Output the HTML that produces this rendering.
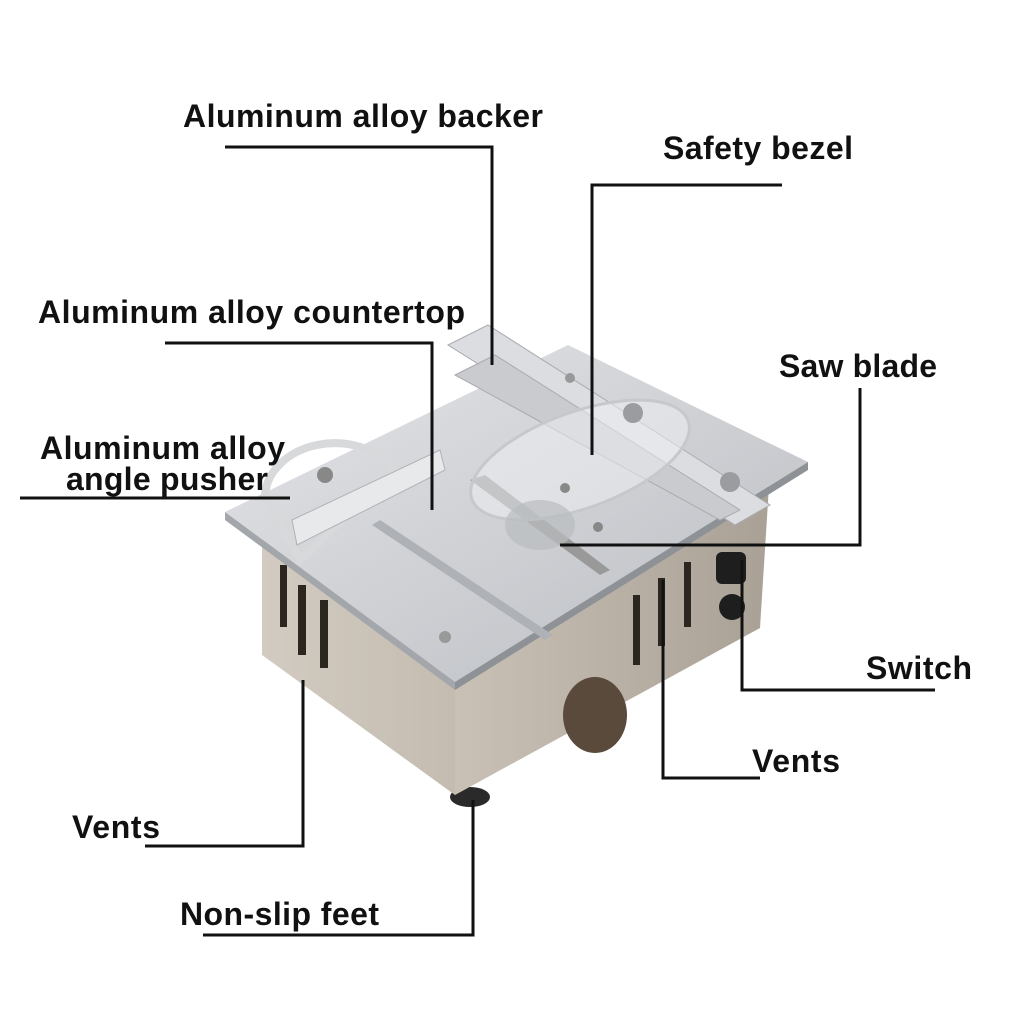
<!DOCTYPE html>
<html><head><meta charset="utf-8"><style>
html,body{margin:0;padding:0;background:#fff;}
svg{display:block}
text{font-family:"Liberation Sans",sans-serif;font-weight:bold;font-size:32px;fill:#111;}
</style></head><body>
<svg width="1024" height="1024" viewBox="0 0 1024 1024">
<defs>
<linearGradient id="top" x1="0" y1="0" x2="1" y2="1">
<stop offset="0" stop-color="#e4e5e8"/><stop offset="0.5" stop-color="#cfd1d5"/><stop offset="1" stop-color="#b9bcc1"/></linearGradient>
<linearGradient id="lf" x1="0" y1="0" x2="1" y2="0">
<stop offset="0" stop-color="#d2cbc1"/><stop offset="1" stop-color="#c4bcb0"/></linearGradient>
<linearGradient id="rf" x1="0" y1="0" x2="1" y2="0">
<stop offset="0" stop-color="#c9c1b5"/><stop offset="1" stop-color="#a9a196"/></linearGradient>
</defs>
<ellipse cx="298" cy="664" rx="16" ry="9" fill="#2a2a2a"/>
<ellipse cx="470" cy="797" rx="20" ry="10" fill="#2a2a2a"/>
<ellipse cx="735" cy="630" rx="14" ry="8" fill="#2a2a2a"/>
<!-- body -->
<polygon points="262,500 455,640 455,795 262,655" fill="url(#lf)"/>
<polygon points="455,640 770,470 760,628 455,795" fill="url(#rf)"/>
<ellipse cx="595" cy="715" rx="32" ry="38" fill="#5a4a3c"/>
<g fill="#2c2620">
<rect x="280" y="565" width="7" height="62"/><rect x="298" y="585" width="8" height="70"/><rect x="320" y="600" width="8" height="68"/>
<rect x="633" y="595" width="7" height="70"/><rect x="658" y="578" width="7" height="68"/><rect x="684" y="562" width="7" height="65"/>
</g>
<rect x="716" y="552" width="30" height="32" rx="6" fill="#1e1e1e"/>
<circle cx="732" cy="607" r="13" fill="#1e1e1e"/>
<!-- top -->
<polygon points="225,512 568,345 808,462 455,682" fill="url(#top)"/>
<polygon points="225,512 455,682 455,690 225,520" fill="#a3a7ac"/>
<polygon points="455,682 808,462 808,470 455,690" fill="#8e9297"/>
<polygon points="372,525 545,640 553,635 380,520" fill="#aeb1b6"/>
<polygon points="470,480 600,575 610,570 485,475" fill="#999"/>
<path d="M265,495 A70,55 0 0 1 395,470 L300,560 Z" fill="none" stroke="#d8d9db" stroke-width="8"/>
<polygon points="292,520 440,450 445,470 297,545" fill="#e8e9eb" stroke="#b0b2b6"/>
<polygon points="448,345 488,325 770,505 735,525" fill="#dcdde0" stroke="#a9abaf"/>
<polygon points="455,375 495,355 740,510 720,520" fill="#c9cbce" stroke="#a9abaf"/>
<ellipse cx="580" cy="460" rx="115" ry="48" transform="rotate(-20 580 460)" fill="rgba(240,242,245,0.5)" stroke="#c5c8cc" stroke-width="3"/>
<ellipse cx="540" cy="525" rx="35" ry="25" fill="#b9bcbf" opacity="0.7"/>
<circle cx="565" cy="488" r="5" fill="#888"/><circle cx="598" cy="527" r="5" fill="#888"/>
<circle cx="445" cy="637" r="6" fill="#999"/><circle cx="570" cy="378" r="5" fill="#999"/>
<circle cx="325" cy="475" r="8" fill="#888"/>
<circle cx="633" cy="413" r="10" fill="#9a9ca0"/><circle cx="730" cy="482" r="10" fill="#9a9ca0"/>
<g stroke="#111" stroke-width="3" fill="none">
<polyline points="225,147 492,147 492,365"/>
<polyline points="592,455 592,185 782,185"/>
<polyline points="165,343 432,343 432,510"/>
<polyline points="860,388 860,545 560,545"/>
<polyline points="20,498 290,498"/>
<polyline points="742,560 742,690 935,690"/>
<polyline points="663,580 663,778 760,778"/>
<polyline points="303,680 303,846 145,846"/>
<polyline points="473,800 473,935 203,935"/>
</g>
<text x="183" y="127" textLength="360">Aluminum alloy backer</text>
<text x="663" y="159" textLength="190">Safety bezel</text>
<text x="38" y="323" textLength="427">Aluminum alloy countertop</text>
<text x="779" y="377" textLength="158">Saw blade</text>
<text x="40" y="459" textLength="245">Aluminum alloy</text>
<text x="66" y="490" textLength="202">angle pusher</text>
<text x="866" y="679" textLength="106">Switch</text>
<text x="752" y="772" textLength="88">Vents</text>
<text x="72" y="838" textLength="88">Vents</text>
<text x="180" y="925" textLength="199">Non-slip feet</text>
</svg>
</body></html>
